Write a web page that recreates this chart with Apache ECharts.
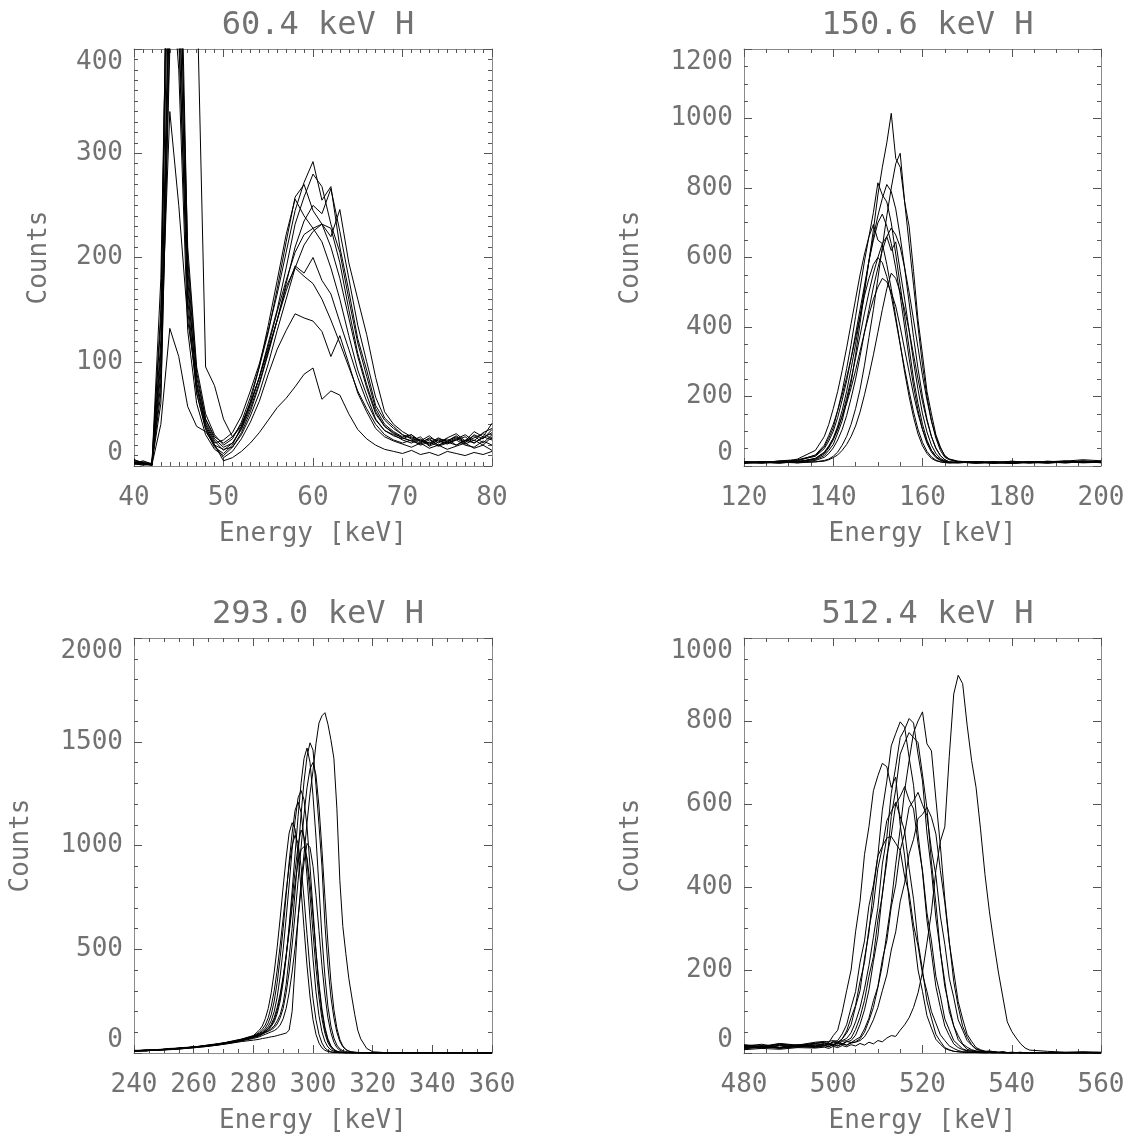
<!DOCTYPE html>
<html>
<head>
<meta charset="utf-8">
<script src="https://cdn.jsdelivr.net/npm/echarts@6/dist/echarts.min.js"></script>
<style>
html,body{margin:0;padding:0;background:#fff;}
#chart{width:1134px;height:1139px;}
</style>
</head>
<body>
<div id="chart"></div>
<script>
// ---------- Panel titles ----------
const panelTitles = ['60.4 keV H', '150.6 keV H', '293.0 keV H', '512.4 keV H'];

// ---------- Panel 1: 60.4 keV (energy bins, keV) ----------
const energy60 = [40,41,42,43,44,45,46,47,48,49,50,51,52,53,54,55,56,57,58,59,60,61,62,63,64,65,66,67,68,69,70,71,72,73,74,75,76,77,78,79,80];
const c60a = [4,2,1,180,620,560,180,75,40,22,25,32,48,72,98,130,165,205,245,272,292,255,268,210,168,122,92,58,44,36,30,27,24,29,22,27,31,24,33,28,41];
const c60b = [6,3,1,120,700,800,650,470,95,77,45,28,38,60,85,118,150,190,232,258,280,268,232,205,160,118,86,55,40,33,28,30,23,26,20,24,28,22,30,26,35];
const c60c = [2,5,2,90,480,520,210,95,50,30,20,26,42,66,95,128,170,215,258,270,245,232,228,195,150,108,78,52,38,32,27,24,28,20,25,22,26,30,24,32,36];
const c60d = [3,2,2,60,420,460,190,85,45,26,18,22,35,55,80,110,140,175,210,235,250,242,266,225,180,135,100,66,46,38,30,26,22,27,24,21,25,28,22,27,32];
const c60e = [5,3,1,140,560,430,150,70,35,18,12,20,38,62,95,135,178,222,256,240,228,215,190,160,125,92,68,45,34,30,25,22,26,19,23,26,20,24,29,22,30];
const c60f = [2,1,3,70,400,480,170,78,38,20,16,18,30,48,70,98,130,160,190,212,225,232,220,246,195,160,126,85,52,40,33,28,25,22,27,23,20,25,22,28,25];
const c60g = [4,2,1,110,340,250,140,80,42,24,15,22,36,58,85,115,148,178,205,222,228,232,210,180,142,105,75,50,38,31,27,24,21,25,20,23,27,21,25,20,28];
const c60h = [3,4,2,150,650,600,200,90,45,28,22,28,40,60,85,112,140,168,192,185,200,178,165,138,112,85,62,44,34,29,26,30,24,21,26,24,29,23,27,31,26];
const c60i = [6,3,1,100,500,380,130,60,30,16,10,18,32,52,78,108,140,172,190,182,175,160,140,118,95,72,55,40,30,25,22,25,20,23,19,22,25,20,18,24,20];
const c60j = [3,2,1,80,450,410,160,70,36,20,8,14,26,42,62,88,112,130,146,142,139,129,105,125,98,70,52,36,28,24,21,18,22,17,20,16,19,22,17,20,15];
const c60k = [2,1,1,40,132,105,57,38,33,20,5,8,14,22,32,44,56,65,76,88,94,64,72,68,50,35,26,20,16,14,12,15,11,13,10,14,12,10,13,11,14];

// ---------- Panel 2: 150.6 keV ----------
const energy150 = [120,124,128,132,136,138,139,140,141,142,143,144,145,146,147,148,149,150,151,152,153,154,155,156,157,158,159,160,161,162,163,164,165,166,168,172,176,180,184,188,192,196,200];
const c150a = [10,12,8,14,18,30,45,62,95,130,185,240,320,410,500,590,680,780,860,930,1015,885,860,760,640,520,400,290,200,130,80,45,25,18,12,10,8,12,9,14,11,15,12];
const c150b = [8,10,14,9,12,16,20,28,40,60,85,120,165,220,290,370,450,540,630,720,800,870,900,760,690,560,420,320,215,150,90,55,28,20,14,10,13,9,12,10,14,18,15];
const c150c = [12,9,15,18,30,55,80,110,160,215,280,350,430,510,590,660,730,815,780,760,700,610,520,430,340,250,180,120,75,45,28,18,14,10,12,8,11,7,10,13,9,12,10];
const c150d = [9,13,10,12,22,38,55,80,115,160,215,280,350,430,510,590,660,720,770,810,790,740,660,570,470,370,280,200,135,85,50,30,18,12,10,12,9,14,10,12,15,10,13];
const c150e = [11,8,12,16,28,50,72,100,140,190,245,310,380,450,520,590,650,700,725,690,640,570,490,400,310,230,160,105,65,40,24,16,12,10,9,12,8,10,13,9,11,14,9];
const c150f = [13,10,9,20,45,85,120,165,215,275,340,410,480,550,610,660,695,650,640,580,510,430,350,270,200,140,92,58,36,22,15,12,10,9,11,8,12,9,11,8,12,10,14];
const c150g = [10,12,11,9,16,25,36,52,75,105,145,195,250,315,385,450,515,570,620,660,685,665,630,570,500,420,340,260,190,130,85,52,30,20,12,9,11,13,8,12,10,13,11];
const c150h = [9,11,13,12,20,35,52,75,105,145,195,250,310,375,440,500,555,600,640,660,620,645,560,480,390,300,220,150,98,60,36,22,15,11,10,13,10,8,12,11,9,12,10];
const c150i = [12,10,13,15,32,60,88,120,160,205,255,310,370,430,490,540,580,600,585,545,490,420,350,280,215,155,105,68,42,26,17,12,10,9,10,12,9,11,10,13,10,11,12];
const c150j = [8,10,9,11,12,14,18,24,32,45,62,85,115,155,205,260,320,385,450,510,555,540,500,450,390,320,250,185,130,85,52,30,18,12,10,11,9,12,10,9,13,11,12];
const c150k = [11,9,12,10,22,40,58,80,108,142,180,225,275,330,385,435,480,515,540,530,500,460,400,335,270,205,150,105,70,45,28,18,13,10,9,12,10,8,11,10,12,9,11];

// ---------- Panel 3: 293.0 keV ----------
const energy293 = [240,244,248,252,256,260,264,268,272,276,280,282,283,284,285,286,287,288,289,290,291,292,293,294,295,296,297,298,299,300,301,302,303,304,305,306,307,308,309,310,311,312,313,314,315,316,318,320,324,330,340,350,360];
const c293a = [8,11,14,17,21,25,31,38,46,55,62,66,70,72,75,78,80,84,88,92,96,110,200,420,650,820,960,1110,1250,1360,1490,1590,1625,1640,1585,1510,1420,1180,830,610,480,360,270,185,110,68,22,6,2,1,0,1,0];
const c293b = [10,14,13,18,22,29,33,43,50,64,80,85,92,100,108,118,130,155,185,240,330,460,600,780,960,1150,1310,1430,1495,1460,1290,1100,900,620,420,270,170,100,55,30,16,9,6,4,3,2,1,1,0,0,1,0,0];
const c293c = [12,10,16,20,24,26,36,40,54,60,76,90,96,104,115,128,150,190,250,340,460,610,780,960,1140,1300,1420,1470,1400,1240,1040,800,560,370,225,130,72,38,20,11,7,5,3,2,2,1,1,0,0,1,0,0,1];
const c293d = [9,13,15,17,25,27,35,41,48,62,74,82,90,98,104,112,122,140,170,215,290,390,520,670,830,990,1150,1280,1370,1400,1340,1190,980,750,530,345,210,120,65,34,17,9,5,3,2,2,1,0,1,0,0,1,0];
const c293e = [11,15,14,21,23,30,32,44,53,66,82,92,100,112,128,155,200,270,370,500,650,810,980,1120,1230,1265,1220,1090,900,690,490,320,195,110,60,32,17,9,5,3,2,2,1,1,0,1,0,0,0,1,0,0,0];
const c293f = [10,12,17,19,22,28,34,39,51,61,79,95,105,120,145,185,250,340,460,600,760,920,1060,1170,1210,1160,1030,850,645,455,295,180,102,55,29,15,8,5,3,2,1,1,0,1,0,0,0,1,0,0,0,0,1];
const c293g = [13,11,16,18,26,29,36,42,55,67,84,110,130,165,215,290,390,510,650,800,940,1060,1110,1080,960,790,600,420,270,160,90,48,25,13,7,4,2,2,1,1,0,1,0,0,0,0,1,0,0,0,1,0,0];
const c293h = [9,14,13,20,21,31,33,40,49,65,77,86,95,104,115,130,160,205,270,360,470,600,740,880,1000,1075,1040,925,760,580,410,270,165,95,50,26,13,7,4,2,2,1,1,0,1,0,0,0,1,0,0,0,0];
const c293i = [12,13,15,22,24,28,37,45,52,63,81,100,115,135,170,225,300,400,520,650,780,900,1000,1050,1010,900,745,570,400,262,160,90,48,24,12,6,3,2,1,1,0,0,1,0,0,0,0,0,0,0,0,1,0];
const c293j = [8,12,14,16,20,26,31,38,47,58,70,78,84,90,96,102,108,118,135,165,215,290,390,510,650,790,920,1010,990,900,760,590,420,280,170,98,52,26,13,6,3,2,1,1,0,1,0,0,0,0,1,0,0];
const c293k = [11,10,17,17,23,27,35,43,50,61,75,88,96,106,118,138,170,220,285,370,470,580,700,820,920,980,995,940,820,660,490,335,212,125,68,35,17,8,4,2,1,1,0,0,1,0,0,0,0,1,0,0,0];

// ---------- Panel 4: 512.4 keV ----------
const energy512 = [480,484,488,492,496,498,499,500,501,502,503,504,505,506,507,508,509,510,511,512,513,514,515,516,517,518,519,520,521,522,523,524,525,526,527,528,529,530,531,532,533,534,535,536,537,538,539,540,541,542,543,544,548,552,556,560];
const c512a = [8,11,9,13,12,14,11,16,13,18,15,20,17,23,19,26,22,30,27,36,42,40,55,68,85,110,145,195,265,340,440,510,545,715,865,910,890,790,705,640,540,430,340,265,195,135,75,52,36,22,12,7,4,2,3,2];
const c512b = [14,18,12,20,16,18,15,21,17,23,19,25,27,34,50,78,110,158,212,288,362,455,540,632,705,772,800,822,745,728,612,500,372,270,172,112,64,38,20,10,6,4,5,3,2,3,1,2,1,2,0,1,1,0,2,0];
const c512c = [16,12,19,15,22,20,24,19,27,30,35,49,75,109,155,211,279,350,455,520,625,690,760,780,806,795,720,655,530,440,325,245,160,112,65,42,22,14,8,5,4,3,2,3,1,2,1,0,1,0,1,0,1,0,1,0];
const c512d = [18,14,21,17,24,26,28,30,26,34,48,68,112,150,228,290,395,475,585,655,740,770,798,785,712,645,528,435,320,242,160,110,65,42,22,13,8,5,4,3,2,3,1,2,1,0,1,0,1,0,0,1,0,1,0,1];
const c512e = [11,16,13,19,15,17,21,18,24,20,27,30,43,69,104,152,220,282,385,460,570,635,720,748,772,760,748,670,590,460,360,245,172,100,65,32,20,9,6,4,3,2,3,1,2,1,0,1,0,1,0,0,1,0,0,1];
const c512f = [20,16,23,19,26,28,25,42,55,98,150,200,292,365,478,545,632,668,698,690,640,665,550,475,368,290,200,148,90,60,33,21,11,7,4,3,2,3,1,2,1,0,1,0,1,0,0,1,0,0,1,0,0,1,0,0];
const c512g = [13,17,11,15,18,22,18,25,21,28,30,36,57,86,127,185,232,320,380,475,525,600,618,642,610,588,505,440,338,270,185,138,82,56,30,20,10,6,4,3,2,1,2,1,0,1,0,0,1,0,0,0,0,0,1,0];
const c512h = [15,12,18,14,20,17,23,19,26,22,28,25,32,38,58,84,126,160,225,270,352,405,488,530,592,608,628,598,572,490,428,330,262,180,134,80,55,30,19,9,6,4,2,3,1,2,1,0,1,0,0,1,0,0,0,1];
const c512i = [19,15,22,18,16,24,20,27,23,34,53,85,115,172,218,300,355,445,495,560,582,604,570,535,445,370,268,200,125,84,45,28,13,8,4,3,2,1,2,1,0,1,0,0,1,0,0,0,1,0,0,0,0,1,0,0];
const c512j = [10,14,12,16,13,18,15,20,17,22,19,24,26,30,39,57,80,110,150,188,248,292,365,410,480,515,565,575,592,568,528,440,362,265,196,124,82,45,28,13,8,4,3,2,1,2,1,0,1,0,0,0,1,0,0,0];
const c512k = [17,21,14,19,23,25,21,28,30,46,68,110,148,218,270,355,405,475,498,518,522,505,488,425,385,308,258,190,148,100,72,44,30,17,11,6,3,2,1,2,1,0,1,0,0,1,0,0,0,1,0,0,0,0,1,0];

// ---------- Axis tick definitions ----------
const xRanges = [[40,80,10,10],[120,200,20,4],[240,360,20,4],[480,560,20,4]];   // min,max,interval,minor
const yRanges = [[0,400,100,10],[0,1200,200,4],[0,2000,500,5],[0,1000,200,4]];

// ---------- Layout (pixels) ----------
const grids = [
  {left:134, top:49,  width:358, height:417},
  {left:744, top:49,  width:357, height:417},
  {left:134, top:638, width:358, height:415},
  {left:744, top:638, width:357, height:415}
];
const titleTops = [5, 5, 594, 594];
const yNameGaps = [82, 100, 100, 100];

const panelData = [
  {x: energy60,  ys: [c60a,c60b,c60c,c60d,c60e,c60f,c60g,c60h,c60i,c60j,c60k]},
  {x: energy150, ys: [c150a,c150b,c150c,c150d,c150e,c150f,c150g,c150h,c150i,c150j,c150k]},
  {x: energy293, ys: [c293a,c293b,c293c,c293d,c293e,c293f,c293g,c293h,c293i,c293j,c293k]},
  {x: energy512, ys: [c512a,c512b,c512c,c512d,c512e,c512f,c512g,c512h,c512i,c512j,c512k]}
];

const FONT = "'DejaVu Sans Mono', monospace";
const TXT = '#727272';
const AXL = '#8a8a8a';
const TCK = '#555';
const plain = v => String(v);

const xAxes = [], yAxes = [], series = [], titles = [];
grids.forEach((g, i) => {
  const [xmin, xmax, xint, xminor] = xRanges[i];
  const [ymin, ymax, yint, yminor] = yRanges[i];
  const common = {
    gridIndex: i, type: 'value',
    axisLine: {show: true, onZero: false, lineStyle: {color: AXL, width: 1}},
    splitLine: {show: false},
    minorSplitLine: {show: false}
  };
  xAxes.push(Object.assign({}, common, {
    position: 'bottom', min: xmin, max: xmax, interval: xint,
    axisTick: {show: true, inside: true, length: 8, lineStyle: {color: TCK}},
    minorTick: {show: true, splitNumber: xminor, length: 4, lineStyle: {color: TCK}},
    axisLabel: {show: true, margin: 19, fontFamily: FONT, fontSize: 26, color: TXT, formatter: plain,
      showMinLabel: true, showMaxLabel: true},
    name: 'Energy [keV]', nameLocation: 'middle', nameGap: 55,
    nameTextStyle: {fontFamily: FONT, fontSize: 26, color: TXT}
  }));
  xAxes.push(Object.assign({}, common, {
    position: 'top', min: xmin, max: xmax, interval: xint,
    axisTick: {show: true, inside: true, length: 8, lineStyle: {color: TCK}},
    minorTick: {show: true, splitNumber: xminor, length: 4, lineStyle: {color: TCK}},
    axisLabel: {show: false}
  }));
  yAxes.push(Object.assign({}, common, {
    position: 'left', min: ymin, max: ymax, interval: yint,
    axisTick: {show: true, inside: true, length: 8, lineStyle: {color: TCK}},
    minorTick: {show: true, splitNumber: yminor, length: 4, lineStyle: {color: TCK}},
    axisLabel: {show: true, margin: 11, fontFamily: FONT, fontSize: 26, color: TXT, formatter: plain,
      verticalAlignMinLabel: 'bottom', verticalAlignMaxLabel: 'top', showMinLabel: true, showMaxLabel: true},
    name: 'Counts', nameLocation: 'middle', nameGap: yNameGaps[i], nameRotate: 90,
    nameTextStyle: {fontFamily: FONT, fontSize: 26, color: TXT}
  }));
  yAxes.push(Object.assign({}, common, {
    position: 'right', min: ymin, max: ymax, interval: yint,
    axisTick: {show: true, inside: true, length: 8, lineStyle: {color: TCK}},
    minorTick: {show: true, splitNumber: yminor, length: 4, lineStyle: {color: TCK}},
    axisLabel: {show: false}
  }));
  titles.push({
    text: panelTitles[i], left: g.left + g.width / 2, top: titleTops[i], textAlign: 'center',
    textStyle: {fontFamily: FONT, fontSize: 32, fontWeight: 'normal', color: TXT}
  });
  const pd = panelData[i];
  pd.ys.forEach((ys) => {
    series.push({
      type: 'line', xAxisIndex: 2 * i, yAxisIndex: 2 * i,
      data: pd.x.map((e, k) => [e, ys[k]]),
      showSymbol: false, symbol: 'none', clip: true, silent: true,
      lineStyle: {color: '#000', width: 1}, z: 3
    });
  });
});

const chart = echarts.init(document.getElementById('chart'), null, {renderer: 'canvas'});
chart.setOption({
  animation: false,
  backgroundColor: '#fff',
  color: ['#000'],
  title: titles,
  grid: grids.map(g => Object.assign({containLabel: false, outerBoundsMode: 'none', show: false}, g)),
  xAxis: xAxes,
  yAxis: yAxes,
  tooltip: {show: false},
  series: series
});
</script>
</body>
</html>
